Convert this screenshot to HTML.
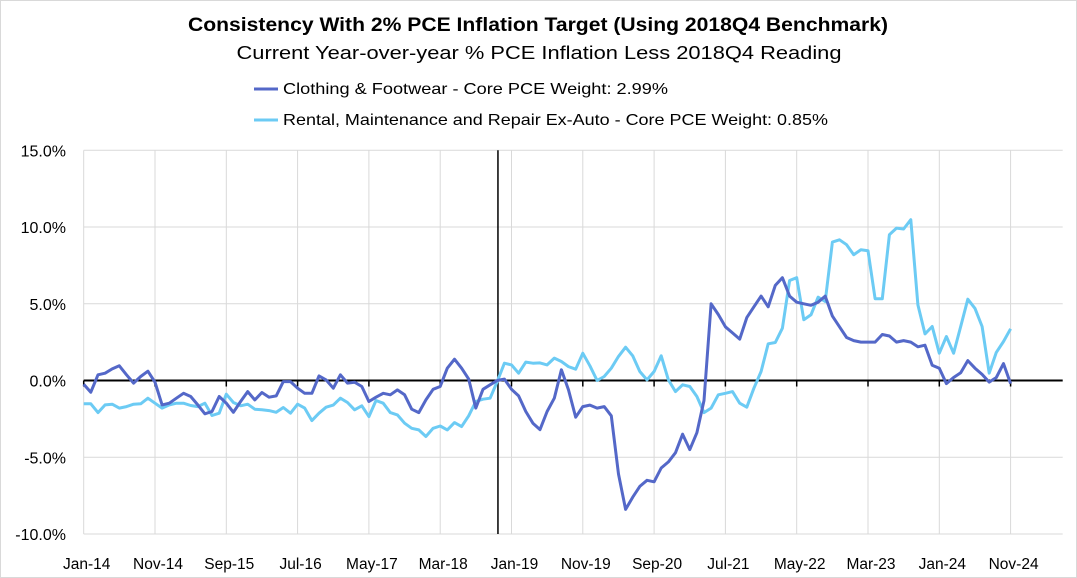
<!DOCTYPE html>
<html><head><meta charset="utf-8">
<style>
html,body{margin:0;padding:0;background:#fff;}
svg{display:block;font-family:"Liberation Sans",sans-serif;}
</style></head>
<body>
<svg id="chart" width="1077" height="578" viewBox="0 0 1077 578" xmlns="http://www.w3.org/2000/svg">
<rect x="0.5" y="0.5" width="1076" height="577" fill="#fff" stroke="#d9d9d9"/>
<text x="538" y="31" text-anchor="middle" font-size="19" font-weight="bold" fill="#000" textLength="700" lengthAdjust="spacingAndGlyphs">Consistency With 2% PCE Inflation Target (Using 2018Q4 Benchmark)</text>
<text x="539" y="59" text-anchor="middle" font-size="18" fill="#000" textLength="605" lengthAdjust="spacingAndGlyphs">Current Year-over-year % PCE Inflation Less 2018Q4 Reading</text>
<g>
<g>
<line x1="254" y1="89" x2="278" y2="89" stroke="#5468c8" stroke-width="3"/>
<text x="283" y="94" font-size="16" fill="#000" textLength="385" lengthAdjust="spacingAndGlyphs">Clothing &amp; Footwear - Core PCE Weight: 2.99%</text>
</g>
<g>
<line x1="254" y1="120" x2="278" y2="120" stroke="#6ccbf4" stroke-width="3"/>
<text x="283" y="125" font-size="16" fill="#000" textLength="545" lengthAdjust="spacingAndGlyphs">Rental, Maintenance and Repair Ex-Auto - Core PCE Weight: 0.85%</text>
</g>
</g>
<g id="grid"></g>
<g id="axes"></g>
<g id="series"></g>
</svg>
<script>
const yTicks = [15, 10, 5, 0, -5, -10];
const yTickLabels = ["15.0%", "10.0%", "5.0%", "0.0%", "-5.0%", "-10.0%"];
const xTickLabels = ["Jan-14","Nov-14","Sep-15","Jul-16","May-17","Mar-18","Jan-19","Nov-19","Sep-20","Jul-21","May-22","Mar-23","Jan-24","Nov-24"];
const benchmarkIndex = 58.1;
const clothing = [
-0.24,-0.76,0.37,0.48,0.76,0.96,0.37,-0.17,0.26,0.61,-0.11,-1.59,-1.48,-1.15,-0.83,-1.04,-1.59,-2.17,-2.02,-1.04,
-1.48,-2.07,-1.37,-0.72,-1.26,-0.78,-1.09,-1.0,-0.07,-0.07,-0.5,-0.83,-0.83,0.3,0.04,-0.5,
0.37,-0.17,-0.11,-0.39,-1.37,-1.09,-0.83,-0.93,-0.61,-0.93,-1.87,-2.09,-1.26,-0.57,-0.39,0.8,1.39,0.8,0.09,-1.8,
-0.57,-0.28,0.0,0.09,-0.57,-1.0,-2.02,-2.78,-3.2,-2.02,-1.15,0.7,-0.61,-2.39,-1.7,
-1.6,-1.8,-1.7,-2.3,-6.1,-8.4,-7.6,-6.9,-6.5,-6.6,-5.7,-5.3,-4.7,-3.5,-4.5,-3.4,
-1.3,5.0,4.3,3.5,3.1,2.7,4.1,4.8,5.5,4.8,6.2,6.7,5.5,5.1,5.0,4.9,5.1,5.5,4.2,3.5,2.8,2.6,2.5,2.5,2.5,
3.0,2.9,2.5,2.6,2.5,2.2,2.3,1.0,0.8,-0.2,0.2,0.5,1.3,0.8,0.4,-0.1,0.2,1.1,-0.2
];
const rental = [
-1.52,-1.52,-2.09,-1.59,-1.54,-1.8,-1.7,-1.54,-1.52,-1.15,-1.48,-1.8,-1.59,-1.48,-1.48,-1.63,-1.7,-1.48,-2.28,-2.13,
-0.89,-1.43,-1.65,-1.54,-1.87,-1.91,-1.96,-2.07,-1.76,-2.13,-1.54,-1.8,-2.61,-2.13,-1.74,-1.6,
-1.15,-1.43,-1.91,-1.65,-2.35,-1.3,-1.48,-2.09,-2.24,-2.78,-3.11,-3.22,-3.65,-3.11,-2.96,-3.22,-2.74,-3.0,-2.3,-1.37,
-1.22,-1.15,-0.07,1.13,1.02,0.48,1.2,1.13,1.15,1.02,1.46,1.24,0.91,0.74,1.78,
0.96,0.0,0.26,0.8,1.57,2.17,1.61,0.59,0.04,0.59,1.61,0.04,-0.72,-0.28,-0.39,-1.04,-2.09,-1.8,-0.93,-0.83,-0.72,-1.48,-1.74,-0.5,0.59,2.39,
2.48,3.41,6.52,6.7,3.96,4.28,5.43,5.15,9.02,9.17,8.85,8.2,8.52,8.46,5.33,5.33,9.5,9.93,9.87,10.48,4.93,3.04,3.52,1.78,2.87,1.78,3.52,5.3,4.7,3.52,0.48,1.83,2.54,3.37
];
const NS = "http://www.w3.org/2000/svg";
const x0 = 83.7, monthW = 7.13, xRight = 1062.7;
const yTop = 150.3, yBottom = 534;
function xScale(i){ return x0 + monthW * i; }
function yScale(v){ return yTop + (15 - v) * (yBottom - yTop) / 25; }
function mk(tag, attrs, parent){ const e = document.createElementNS(NS, tag); for (const k in attrs) e.setAttribute(k, attrs[k]); parent.appendChild(e); return e; }
const grid = document.getElementById('grid');
const axes = document.getElementById('axes');
const series = document.getElementById('series');
yTicks.forEach((t, k) => {
  if (t !== 0) {
    const l = mk('line', {x1:x0, x2:xRight, y1:yScale(t), y2:yScale(t), stroke:'#d9d9d9', 'stroke-width':1}, grid);
    
    
  }
  const tx = mk('text', {x:66, y:yScale(t)+6, 'text-anchor':'end', 'font-size':16, fill:'#000'}, axes);
  tx.textContent = yTickLabels[k];
  
  
});
xTickLabels.forEach((lab, k) => {
  const xi = xScale(k * 10);
  const l = mk('line', {x1:xi, x2:xi, y1:yTop, y2:yBottom, stroke:'#d9d9d9', 'stroke-width':1}, grid);
  
  
  const tk = mk('line', {x1:xi, x2:xi, y1:yScale(0), y2:yScale(0)+6, stroke:'#000', 'stroke-width':1.5}, axes);
  
  
  const tx = mk('text', {x:xi+3, y:569, 'text-anchor':'middle', 'font-size':15.5, fill:'#000'}, axes);
  tx.textContent = lab;
  
  
});
const za = mk('line', {x1:x0, x2:xRight, y1:yScale(0), y2:yScale(0), stroke:'#000', 'stroke-width':2}, axes);


const bl = mk('line', {x1:xScale(benchmarkIndex), x2:xScale(benchmarkIndex), y1:yTop, y2:yBottom, stroke:'#000', 'stroke-width':1.5}, axes);


function pts(arr){ return arr.map((v,i)=>xScale(i).toFixed(1)+','+yScale(v).toFixed(1)).join(' '); }
const p2 = mk('polyline', {points:pts(rental), fill:'none', stroke:'#6ccbf4', 'stroke-width':3, 'stroke-linejoin':'round'}, series);


const p1 = mk('polyline', {points:pts(clothing), fill:'none', stroke:'#5468c8', 'stroke-width':3, 'stroke-linejoin':'round'}, series);


</script>
</body></html>
